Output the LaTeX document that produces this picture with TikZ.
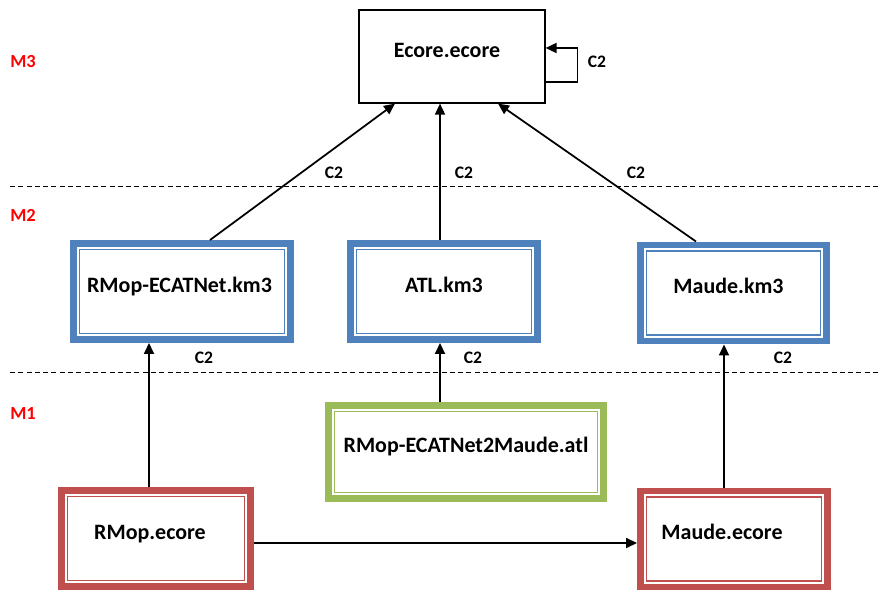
\documentclass[tikz,border=0pt]{standalone}
\usepackage{fontspec}
\setmainfont{Carlito}
\usepackage{tikz}
\usetikzlibrary{arrows.meta,positioning,calc}
\definecolor{mblue}{HTML}{4F81BD}
\definecolor{mred}{HTML}{C0504D}
\definecolor{mgreen}{HTML}{9BBB59}

\begin{document}
\begin{tikzpicture}[
    x=0.02cm, y=-0.02cm,
    box/.style={rectangle, draw=black, line width=0.025cm,
                minimum width=3.72cm, minimum height=1.86cm, inner sep=0pt,
                font=\fontsize{12.5}{14}\selectfont\bfseries,
                text height=0.3cm, text depth=0.27cm},
    model/.style={rectangle, draw=#1, line width=0.13cm,
                minimum height=1.93cm, inner sep=0pt,
                font=\fontsize{12.5}{14}\selectfont\bfseries,
                text height=0.3cm, text depth=0.27cm},
    arrow/.style={-{Triangle[length=0.22cm,width=0.2cm]}, line width=0.035cm},
    lbl/.style={font=\fontsize{10}{11}\selectfont\bfseries},
    level/.style={font=\fontsize{10.5}{12}\selectfont\bfseries, text=red},
    layer/.style={dash pattern=on 0.1cm off 0.066cm, line width=0.02cm},
]
\useasboundingbox (0,0) rectangle (881,590);

% meta-levels
\node[level] (m3) at (23,62) {M3};
\node[level] (m2) at (23,215) {M2};
\node[level] (m1) at (23,414) {M1};
\coordinate (l2a) at (10,187);
\coordinate (l2b) at (881,187);
\coordinate (l1a) at (10,373);
\coordinate (l1b) at (881,373);
\draw[layer] (l2a) -- (l2b);
\draw[layer] (l1a) -- (l1b);

\node[box] (ecore) at (452,56.5) {Ecore.ecore\hspace*{0.2cm}};

\node[model=mblue,minimum width=4.35cm] (rmopkm3) at (182,291.5) {RMop-ECATNet.km3\hspace*{0.1cm}};
\node[model=mblue,minimum width=3.75cm] (atlkm3) at (444,291.5) {ATL.km3};
\node[model=mblue,minimum width=3.73cm] (maudekm3) at (733.5,293) {Maude.km3\hspace*{0.2cm}};

\node[model=mgreen,minimum width=5.51cm,minimum height=1.87cm] (trans) at (466,452) {RMop-ECATNet2Maude.atl};

\node[model=mred,minimum width=3.79cm] (rmop) at (156,538.5) {RMop.ecore\hspace*{0.24cm}};
\node[model=mred,minimum width=3.75cm] (maude) at (734,539) {Maude.ecore\hspace*{0.48cm}};

\foreach \n/\c in {rmopkm3/mblue, atlkm3/mblue, maudekm3/mblue,
                   trans/mgreen, rmop/mred, maude/mred}
    \draw[\c, line width=0.035cm] ([shift={(9.5,9.5)}]\n.north west)
        rectangle ([shift={(-9.5,-9.5)}]\n.south east);

\draw[arrow] ([shift={(0,25.5)}]ecore.east) -- ++(32,0) |- ([shift={(0,-8.5)}]ecore.east);
\draw[arrow] ([shift={(28,0)}]rmopkm3.north) -- ([shift={(-57,0)}]ecore.south);
\draw[arrow] ([shift={(-4,0)}]atlkm3.north) -- ([shift={(-4,0)}]atlkm3.north |- ecore.south);
\draw[arrow] ([shift={(-37.5,0)}]maudekm3.north) -- ([shift={(46,0)}]ecore.south);
\draw[arrow] ([shift={(-7,0)}]rmop.north) -- ([shift={(-7,0)}]rmop.north |- rmopkm3.south);
\draw[arrow] ([shift={(-26,0)}]trans.north) -- ([shift={(-26,0)}]trans.north |- atlkm3.south);
\draw[arrow] ([shift={(-10,0)}]maude.north) -- ([shift={(-10,0)}]maude.north |- maudekm3.south);
\draw[arrow] ([shift={(0,4.5)}]rmop.east) -- ([shift={(0,4.5)}]rmop.east -| maude.west);

% conformance labels
\foreach \x/\y [count=\i] in {597/62, 334/173, 464/173, 636/173,
                              204/358, 473/358, 783/358}
    \node[lbl] (c2-\i) at (\x,\y) {C2};

\end{tikzpicture}
\end{document}
